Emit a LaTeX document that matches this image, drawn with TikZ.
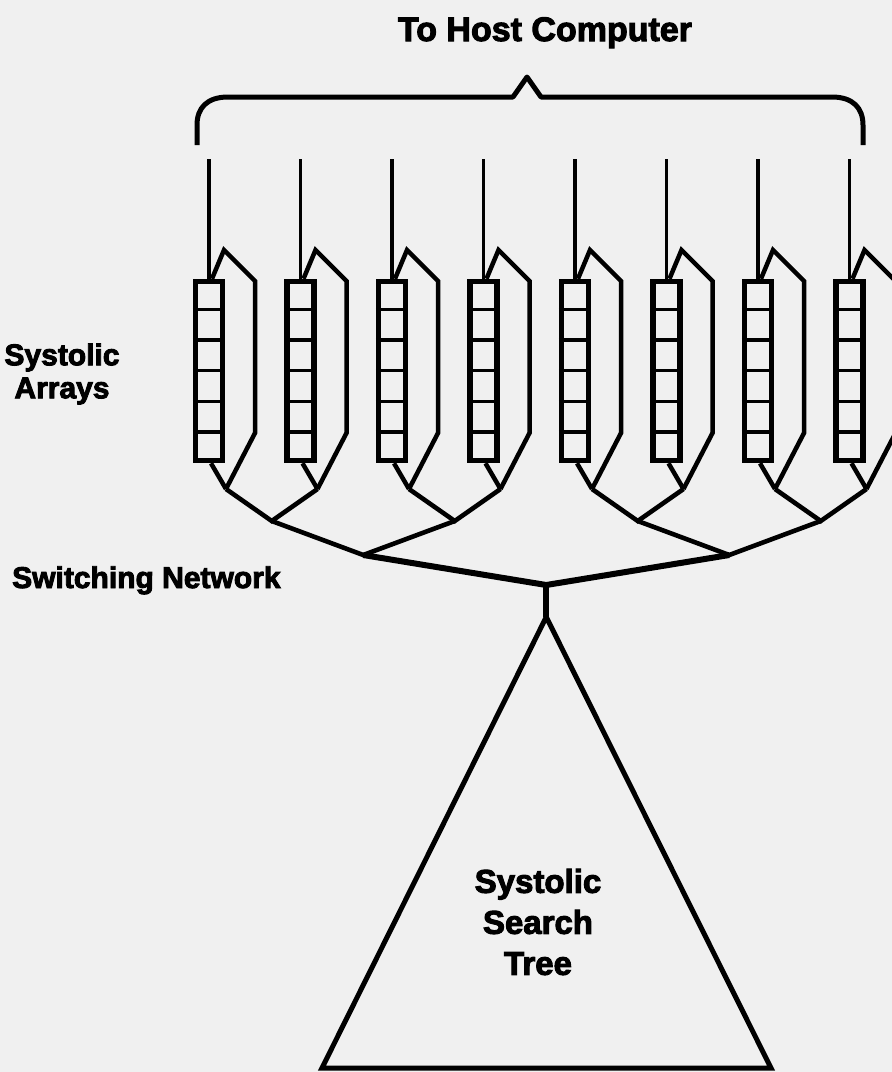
\documentclass[tikz,border=0pt]{standalone}
\usepackage{fontspec}
\newfontfamily\heavy{Liberation Sans}[BoldFeatures={FakeBold=3}]
\usetikzlibrary{calc}
\begin{document}
\begin{tikzpicture}[x=1pt,y=-1pt,
  arraybox/.style={draw, line width=5.5pt, minimum width=27pt, minimum height=179pt, inner sep=0pt},
  cellsep/.style={line width=3.4pt},
  hull/.style={line width=4.5pt},
  hostline/.style={line width=3.6pt},
  bracepath/.style={line width=5pt, line join=round},
  net/.style={line width=4.6pt},
  trunk/.style={line width=6pt},
  tri/.style={line width=5pt, line join=miter},
  lbl/.style={font=\heavy\bfseries\fontsize{30}{33}\selectfont, align=center, inner sep=0pt}]
\fill[black!6] (0,0) rectangle (892,1072);
\useasboundingbox (0,0) rectangle (892,1072);
% title and brace
\node[lbl, font=\heavy\bfseries\fontsize{34}{40}\selectfont, anchor=base] (title) at (545,41) {To Host Computer};
\coordinate (bl) at (197,145);
\coordinate (br) at (863,145);
\coordinate (peak) at (527,77);
\draw[bracepath] (bl) -- (197,125) .. controls (197,108) and (207,97) .. (228,97) -- (513,97) -- (peak) -- (541,97) -- (832,97) .. controls (853,97) and (863,108) .. (863,125) -- (br);
% systolic arrays
\foreach \i in {0,...,7} {
  \pgfmathsetmacro{\c}{209+91.5*\i}
  \node[arraybox] (box\i) at (\c,371) {};
  \foreach \k in {1,...,5}
    \draw[cellsep] ($(box\i.north west)+(0,30.67*\k)$) -- ($(box\i.north east)+(0,30.67*\k)$);
  \coordinate (host\i) at (\c,159);
  \coordinate (J\i) at (\c+17,489);
  \draw[hostline] (box\i.north) -- (host\i);
  \draw[hull] ($(box\i.north)+(3,0)$) -- (\c+15,250) -- (\c+46,281) -- (\c+46,433) -- (J\i);
  \draw[hull] ($(box\i.south)+(2,0)$) -- (J\i);
}
% switching network
\foreach \j in {0,...,3} {
  \pgfmathtruncatemacro{\a}{2*\j}
  \pgfmathtruncatemacro{\b}{2*\j+1}
  \coordinate (M\j) at (271.75+183*\j,521);
  \draw[net] (J\a) -- (M\j) -- (J\b);
}
\coordinate (N0) at (363.25,555);
\coordinate (N1) at (729.25,555);
\draw[net] (M0) -- (N0) -- (M1);
\draw[net] (M2) -- (N1) -- (M3);
\coordinate (R) at (546.25,585);
\coordinate (apex) at (546.25,617);
\draw[trunk] (N0) -- (R) -- (N1);
\draw[trunk] (R) -- (apex);
% search tree
\coordinate (tbl) at (322,1068);
\coordinate (tbr) at (771,1068);
\draw[tri] (apex) -- (tbl) -- (tbr) -- cycle;
\node[lbl, font=\heavy\bfseries\fontsize{33}{41}\selectfont] (treetext) at (538,922) {Systolic\\Search\\Tree};
% side labels
\node[lbl] (arrays) at (62,374) {Systolic\\Arrays};
\node[lbl, anchor=base west] (switch) at (12,588) {Switching Network};
\end{tikzpicture}
\end{document}
